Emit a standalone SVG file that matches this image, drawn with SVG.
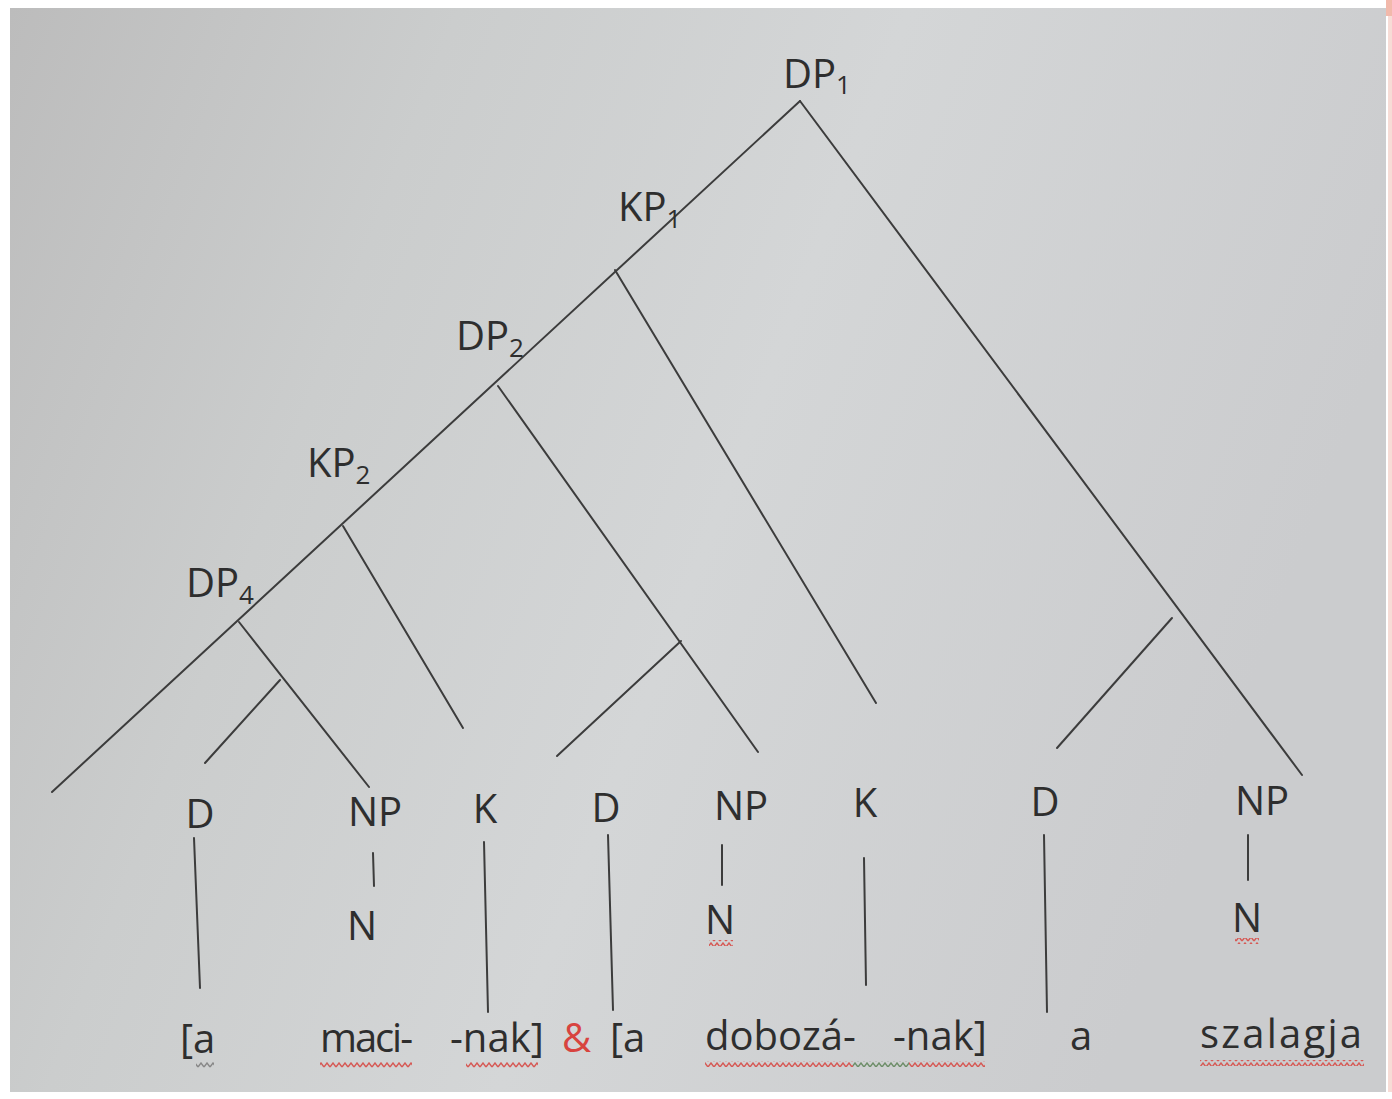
<svg xmlns="http://www.w3.org/2000/svg" width="1392" height="1099" viewBox="0 0 1392 1099">
  <defs>
    <linearGradient id="screen" x1="0" y1="0" x2="1" y2="0.3">
      <stop offset="0" stop-color="#bcbcbc"/>
      <stop offset="0.3" stop-color="#cbcdcd"/>
      <stop offset="0.6" stop-color="#d4d6d7"/>
      <stop offset="1" stop-color="#cbccce"/>
    </linearGradient>
    <pattern id="wavy-red" width="6" height="6" patternUnits="userSpaceOnUse">
      <path d="M0,5 L3,1 L6,5" fill="none" stroke="#d65a56" stroke-width="1.4"/>
    </pattern>
    <pattern id="wavy-green" width="6" height="6" patternUnits="userSpaceOnUse">
      <path d="M0,5 L3,1 L6,5" fill="none" stroke="#6f8f6a" stroke-width="1.4"/>
    </pattern>
    <pattern id="wavy-grey" width="6" height="6" patternUnits="userSpaceOnUse">
      <path d="M0,5 L3,1 L6,5" fill="none" stroke="#888888" stroke-width="1.4"/>
    </pattern>
  </defs>
  <style>
    text { font-family: "Open Sans", "Liberation Sans", sans-serif; font-size: 40px; fill: #2e2e2e; }
    .sub { font-size: 26px; }
    .edge { stroke: #3c3c3c; stroke-width: 2; fill: none; stroke-linecap: round; }
    .amp { fill: #d8433f; }
  </style>

  <!-- white frame and screen -->
  <rect x="0" y="0" width="1392" height="1099" fill="#ffffff"/>
  <rect x="10" y="8" width="1376" height="1084" fill="url(#screen)"/>
  <rect x="1386" y="0" width="6" height="16" fill="#f2b9ab"/>
  <rect x="1388" y="16" width="4" height="1076" fill="#f7dcd6"/>

  <!-- branches -->
  <g id="connectors">
    <line class="edge" x1="800" y1="101" x2="52" y2="792"/>
    <line class="edge" x1="800" y1="101" x2="1302" y2="775"/>
    <line class="edge" x1="615" y1="270" x2="876" y2="703"/>
    <line class="edge" x1="498" y1="386" x2="758" y2="752"/>
    <line class="edge" x1="681" y1="641" x2="557" y2="756"/>
    <line class="edge" x1="343" y1="526" x2="463" y2="728"/>
    <line class="edge" x1="239" y1="622" x2="369" y2="787"/>
    <line class="edge" x1="280" y1="680" x2="205" y2="763"/>
    <line class="edge" x1="1172" y1="618" x2="1057" y2="748"/>
    <!-- unary lines to the words -->
    <line class="edge" x1="194" y1="838" x2="200" y2="988"/>
    <line class="edge" x1="373" y1="853" x2="374" y2="886"/>
    <line class="edge" x1="484" y1="842" x2="488" y2="1012"/>
    <line class="edge" x1="608" y1="835" x2="613" y2="1010"/>
    <line class="edge" x1="722" y1="845" x2="722" y2="885"/>
    <line class="edge" x1="864" y1="858" x2="866" y2="985"/>
    <line class="edge" x1="1044" y1="835" x2="1047" y2="1012"/>
    <line class="edge" x1="1248" y1="835" x2="1248" y2="880"/>
  </g>

  <!-- phrase nodes -->
  <g id="node-dp1"><text x="783" y="88">DP<tspan class="sub" dy="6">1</tspan></text></g>
  <g id="node-kp1"><text x="618" y="221">KP<tspan class="sub" dy="7">1</tspan></text></g>
  <g id="node-dp2"><text x="456" y="350">DP<tspan class="sub" dy="7">2</tspan></text></g>
  <g id="node-kp2"><text x="307" y="477">KP<tspan class="sub" dy="7">2</tspan></text></g>
  <g id="node-dp4"><text x="186" y="597">DP<tspan class="sub" dy="7">4</tspan></text></g>

  <!-- terminal categories -->
  <g id="node-d1"><text x="200" y="828" text-anchor="middle">D</text></g>
  <g id="node-np1"><text x="375" y="826" text-anchor="middle">NP</text></g>
  <g id="node-n1"><text x="362" y="940" text-anchor="middle">N</text></g>
  <g id="node-k1"><text x="485" y="823" text-anchor="middle">K</text></g>
  <g id="node-d2"><text x="606" y="822" text-anchor="middle">D</text></g>
  <g id="node-np2"><text x="741" y="820" text-anchor="middle">NP</text></g>
  <g id="node-n2"><text x="720" y="934" text-anchor="middle">N</text>
    <rect x="709" y="940" width="24" height="6" fill="url(#wavy-red)"/></g>
  <g id="node-k2"><text x="865" y="817" text-anchor="middle">K</text></g>
  <g id="node-d3"><text x="1045" y="816" text-anchor="middle">D</text></g>
  <g id="node-np3"><text x="1262" y="815" text-anchor="middle">NP</text></g>
  <g id="node-n3"><text x="1247" y="932" text-anchor="middle">N</text>
    <rect x="1235" y="938" width="24" height="6" fill="url(#wavy-red)"/></g>

  <!-- words -->
  <g id="word-a1"><text x="180" y="1053">[a</text>
    <rect x="196" y="1062" width="18" height="6" fill="url(#wavy-grey)"/></g>
  <g id="word-maci"><text x="320" y="1052" textLength="93">maci-</text>
    <rect x="320" y="1062" width="92" height="6" fill="url(#wavy-red)"/></g>
  <g id="word-nak1"><text x="450" y="1052">-nak]</text>
    <rect x="466" y="1062" width="72" height="6" fill="url(#wavy-red)"/></g>
  <g id="word-amp"><text class="amp" x="562" y="1052">&amp;</text></g>
  <g id="word-a2"><text x="610" y="1052">[a</text></g>
  <g id="word-doboza"><text x="705" y="1050">dobozá-</text>
    <rect x="705" y="1061" width="148" height="6" fill="url(#wavy-red)"/>
    <rect x="853" y="1061" width="56" height="6" fill="url(#wavy-green)"/></g>
  <g id="word-nak2"><text x="893" y="1050">-nak]</text>
    <rect x="909" y="1061" width="76" height="6" fill="url(#wavy-red)"/></g>
  <g id="word-a3"><text x="1070" y="1050">a</text></g>
  <g id="word-szalagja"><text x="1200" y="1048" textLength="162">szalagja</text>
    <rect x="1200" y="1060" width="164" height="6" fill="url(#wavy-red)"/></g>
</svg>
